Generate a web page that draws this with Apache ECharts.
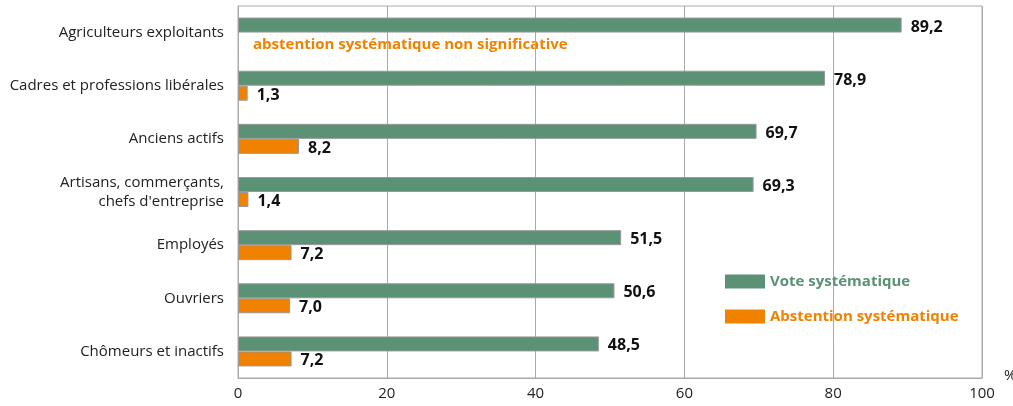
<!DOCTYPE html>
<html><head><meta charset="utf-8">
<script src="https://cdn.jsdelivr.net/npm/echarts@6/dist/echarts.min.js"></script>
<style>html,body{margin:0;padding:0;background:#fff}#c{width:1013px;height:406px}</style>
</head><body><div id="c"></div>
<script>
var categories = ["Agriculteurs exploitants","Cadres et professions libérales","Anciens actifs","Artisans, commerçants,\nchefs d'entreprise","Employés","Ouvriers","Chômeurs et inactifs"];
var voteValues = [89.2, 78.9, 69.7, 69.3, 51.5, 50.6, 48.5];
var abstentionValues = [null, 1.3, 8.2, 1.4, 7.2, 7.0, 7.2];
var xTicks = [0, 20, 40, 60, 80, 100];
var seriesNames = ["Vote systématique", "Abstention systématique"];
var note = "abstention systématique non significative";

var GREEN = '#5b9175', ORANGE = '#f08200', FONT = 'Open Sans';
var chart = echarts.init(document.getElementById('c'));
function fmt(p){ return p.value == null ? '' : Number(p.value).toFixed(1).replace('.', ','); }
var lbl = {show:true, position:'right', distance:9, offset:[0,2], formatter:fmt, color:'#111', fontWeight:'bold', fontSize:16, fontFamily:FONT};
chart.setOption({
  animation:false,
  grid:{left:238, right:31, top:6, bottom:28, containLabel:false, outerBoundsMode:'none', show:true, borderColor:'#aaa', borderWidth:1},
  legend:{orient:'vertical', left:725, top:274, padding:0, itemWidth:40, itemHeight:14, itemGap:20,
    textStyle:{fontSize:15, fontWeight:'bold', fontFamily:FONT},
    itemStyle:{borderWidth:0},
    data:[{name:seriesNames[0], textStyle:{color:GREEN}},{name:seriesNames[1], textStyle:{color:ORANGE}}],
    icon:'rect'},
  xAxis:{type:'value', min:xTicks[0], max:xTicks[xTicks.length-1], interval:20,
    name:'%', nameLocation:'end', nameGap:22, nameTextStyle:{fontSize:15, color:'#222', fontFamily:FONT, verticalAlign:'top', padding:[-10,0,0,0]},
    axisLine:{show:true, lineStyle:{color:'#aaa'}}, axisTick:{show:false},
    axisLabel:{fontSize:15, color:'#222', fontFamily:FONT, margin:8},
    splitLine:{show:true, lineStyle:{color:'#aaa'}}},
  yAxis:{type:'category', data:categories, inverse:true,
    axisLine:{show:true, lineStyle:{color:'#aaa'}}, axisTick:{show:false},
    axisLabel:{fontSize:15, color:'#222', fontFamily:FONT, margin:14, lineHeight:19}},
  series:[
    {name:seriesNames[0], type:'bar', data:voteValues, barWidth:15, barGap:'0%',
      itemStyle:{color:GREEN, borderColor:'#999', borderWidth:1}, label:lbl},
    {name:seriesNames[1], type:'bar', data:abstentionValues, barWidth:15,
      itemStyle:{color:ORANGE, borderColor:'#999', borderWidth:1}, label:lbl}
  ],
  graphic:[{type:'text', left:253, top:37, style:{text:note, fill:ORANGE, font:'bold 15px "'+FONT+'"'}}]
});
</script></body></html>
